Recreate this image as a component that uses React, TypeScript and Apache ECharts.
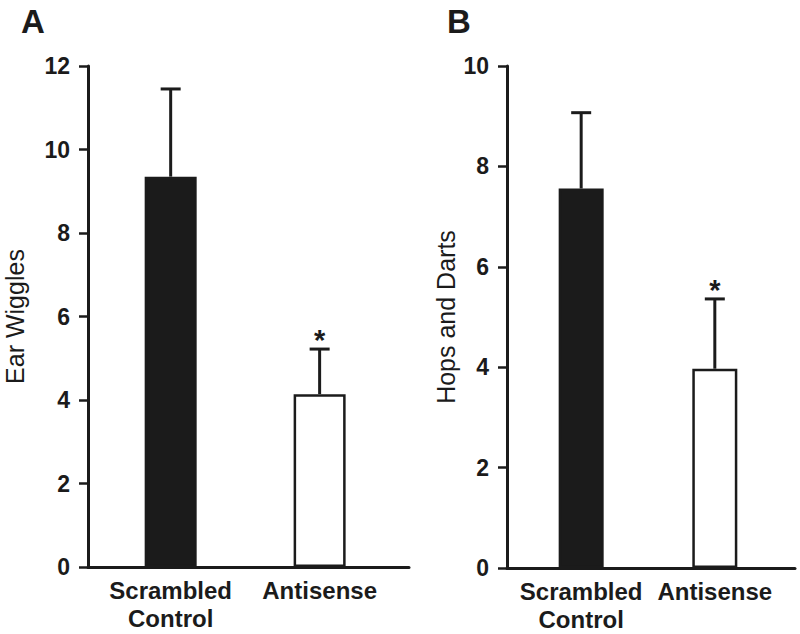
import React, { useEffect, useRef } from "react";
import * as echarts from "echarts";

const categories = ["Scrambled\nControl", "Antisense"];
const earWiggles = [9.35, 4.14];
const earWigglesErr = [2.1, 1.08];
const hopsDarts = [7.56, 3.97];
const hopsDartsErr = [1.51, 1.39];
const significant = [false, true];
const earTicks = { min: 0, max: 12, interval: 2 };
const hopsTicks = { min: 0, max: 10, interval: 2 };

const FONT = "Liberation Sans, Arial, Helvetica, sans-serif";
const INK = "#1b1b1b";

function barData(values: number[]) {
  return values.map((v, i) => ({
    value: [i + 1, v],
    itemStyle:
      i === 0
        ? { color: INK, borderColor: INK, borderWidth: 2.5 }
        : { color: "#ffffff", borderColor: INK, borderWidth: 2.5 },
  }));
}

function errData(values: number[], errs: number[]) {
  return values.map((v, i) => [i + 1, v, v + errs[i], significant[i] ? 1 : 0]);
}

function renderErr(params: any, api: any) {
  const x = api.value(0);
  const base = api.coord([x, api.value(1)]);
  const top = api.coord([x, api.value(2)]);
  const capHalf = 10;
  const children: any[] = [
    {
      type: "line",
      shape: { x1: base[0], y1: base[1], x2: top[0], y2: top[1] },
      style: { stroke: INK, lineWidth: 3 },
    },
    {
      type: "line",
      shape: { x1: top[0] - capHalf, y1: top[1], x2: top[0] + capHalf, y2: top[1] },
      style: { stroke: INK, lineWidth: 3 },
    },
  ];
  if (api.value(3) === 1) {
    children.push({
      type: "text",
      x: top[0],
      y: top[1] - 9,
      style: {
        text: "*",
        fontSize: 29,
        fontWeight: "bold",
        fontFamily: FONT,
        fill: INK,
        align: "center",
        verticalAlign: "middle",
      },
    });
  }
  return { type: "group", children };
}

function xAxisFor(gridIndex: number) {
  return {
    type: "value" as const,
    gridIndex,
    min: 0.445,
    max: 2.6,
    z: 5,
    axisLine: { show: true, lineStyle: { color: INK, width: 3 } },
    axisTick: { show: false },
    splitLine: { show: false },
    axisLabel: {
      customValues: [1, 2],
      formatter: (v: number) => categories[Math.round(v) - 1] ?? "",
      color: INK,
      fontFamily: FONT,
      fontWeight: "bold",
      fontSize: 24,
      lineHeight: 28,
      margin: 9,
    },
  };
}

function yAxisFor(gridIndex: number, ticks: any, name: string, nameGap: number) {
  return {
    type: "value" as const,
    gridIndex,
    min: ticks.min,
    max: ticks.max,
    interval: ticks.interval,
    name,
    nameLocation: "middle" as const,
    nameGap,
    nameTextStyle: { color: INK, fontFamily: FONT, fontSize: 25 },
    axisLine: { show: true, lineStyle: { color: INK, width: 3 } },
    axisTick: { show: true, length: 9, lineStyle: { color: INK, width: 2.5 } },
    splitLine: { show: false },
    axisLabel: {
      color: INK,
      fontFamily: FONT,
      fontWeight: "bold",
      fontSize: 23,
      margin: 18,
    },
  };
}

export default function App() {
  const ref = useRef<HTMLDivElement>(null);
  useEffect(() => {
    document.body.style.margin = "0";
    if (!ref.current) return;
    const chart = echarts.init(ref.current, undefined, { renderer: "svg" });
    chart.setOption({
      animation: false,
      backgroundColor: "#ffffff",
      title: [
        {
          text: "A",
          left: 21,
          top: 5,
          padding: 0,
          textStyle: { fontFamily: FONT, fontWeight: "bold", fontSize: 33, color: INK },
        },
        {
          text: "B",
          left: 447,
          top: 5,
          padding: 0,
          textStyle: { fontFamily: FONT, fontWeight: "bold", fontSize: 33, color: INK },
        },
      ],
      grid: [
        { left: 88, right: 391, top: 66, bottom: 67 },
        { left: 507, right: 5, top: 66, bottom: 66 },
      ],
      xAxis: [xAxisFor(0), xAxisFor(1)],
      yAxis: [
        yAxisFor(0, earTicks, "Ear Wiggles", 61),
        yAxisFor(1, hopsTicks, "Hops and Darts", 49),
      ],
      series: [
        {
          type: "bar",
          xAxisIndex: 0,
          yAxisIndex: 0,
          barWidth: 52,
          data: barData(earWiggles),
        },
        {
          type: "custom",
          xAxisIndex: 0,
          yAxisIndex: 0,
          renderItem: renderErr,
          data: errData(earWiggles, earWigglesErr),
          z: 1,
        },
        {
          type: "bar",
          xAxisIndex: 1,
          yAxisIndex: 1,
          barWidth: 45,
          data: barData(hopsDarts),
        },
        {
          type: "custom",
          xAxisIndex: 1,
          yAxisIndex: 1,
          renderItem: renderErr,
          data: errData(hopsDarts, hopsDartsErr),
          z: 1,
        },
      ],
    });
    return () => chart.dispose();
  }, []);
  return <div ref={ref} style={{ width: 800, height: 634 }} />;
}
